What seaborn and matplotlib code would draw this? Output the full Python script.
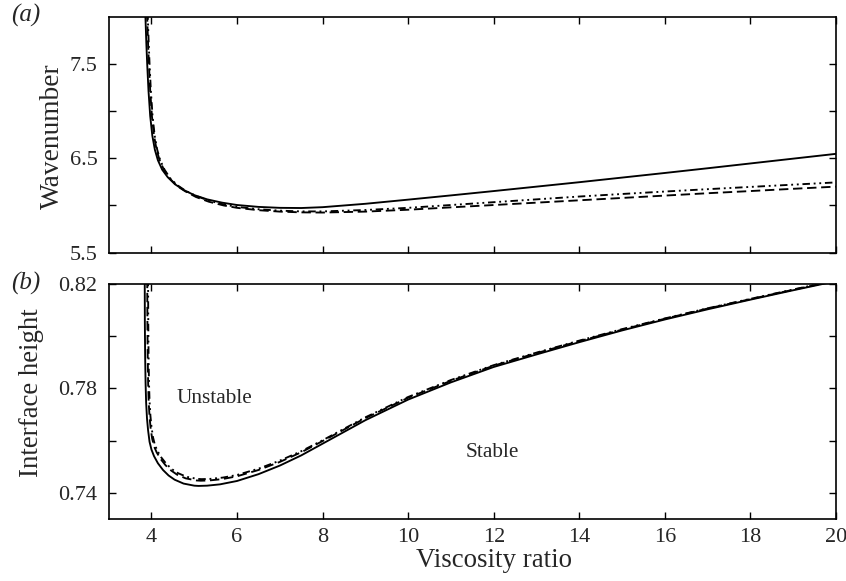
import numpy as np
import pandas as pd
import matplotlib
matplotlib.use("Agg")
import matplotlib.pyplot as plt
import seaborn as sns

# ---- data ----
# Panel (a): wavenumber vs viscosity ratio
a_solid_x = [3.855, 3.88, 3.90, 3.93, 3.97, 4.02, 4.08, 4.15, 4.25, 4.38, 4.55, 4.75, 5.0, 5.3, 5.65, 6.0, 6.5, 7.0, 7.5, 8.0,
             9.0, 10, 11, 12, 13, 14, 15, 16, 17, 18, 19, 20]
a_solid_y = [8.05, 7.72, 7.50, 7.22, 6.95, 6.74, 6.59, 6.48, 6.38, 6.30, 6.225, 6.165, 6.11, 6.065, 6.03, 6.005, 5.985, 5.975, 5.973, 5.982,
             6.018, 6.062, 6.107, 6.153, 6.20, 6.247, 6.296, 6.345, 6.395, 6.446, 6.497, 6.548]

a_dash_x = [3.895, 3.92, 3.94, 3.97, 4.01, 4.06, 4.12, 4.19, 4.29, 4.42, 4.59, 4.79, 5.04, 5.34, 5.69, 6.0, 6.5, 7.0, 7.5, 8.0,
            9.0, 10, 11, 12, 13, 14, 15, 16, 17, 18, 19, 20]
a_dash_y = [8.05, 7.72, 7.50, 7.22, 6.95, 6.74, 6.59, 6.48, 6.38, 6.29, 6.21, 6.15, 6.09, 6.04, 6.00, 5.975, 5.95, 5.935, 5.927, 5.925,
            5.935, 5.955, 5.98, 6.005, 6.03, 6.055, 6.08, 6.105, 6.13, 6.153, 6.177, 6.20]

a_dd_x = [3.91, 3.935, 3.955, 3.985, 4.025, 4.075, 4.135, 4.205, 4.305, 4.435, 4.605, 4.80, 5.05, 5.35, 5.70, 6.0, 6.5, 7.0, 7.5, 8.0,
          9.0, 10, 11, 12, 13, 14, 15, 16, 17, 18, 19, 20]
a_dd_y = [8.05, 7.72, 7.50, 7.22, 6.95, 6.74, 6.59, 6.48, 6.38, 6.29, 6.215, 6.155, 6.10, 6.05, 6.01, 5.985, 5.96, 5.945, 5.937, 5.937,
          5.952, 5.975, 6.005, 6.035, 6.065, 6.095, 6.122, 6.148, 6.173, 6.197, 6.221, 6.245]

# Panel (b): interface height vs viscosity ratio
b_solid_x = [3.842, 3.845, 3.852, 3.862, 3.875, 3.895, 3.92, 3.955, 4.0, 4.06, 4.15, 4.27, 4.40, 4.54, 4.75, 5.0, 5.1, 5.3, 5.6,
             6.0, 6.5, 7.0, 7.5, 8.0, 9, 10, 11, 12, 13, 14, 15, 16, 17, 18, 19, 20]
b_solid_y = [0.822, 0.805, 0.792, 0.782, 0.7745, 0.7685, 0.764, 0.7595, 0.7565, 0.7540, 0.7513, 0.7487, 0.7466, 0.7450, 0.7435, 0.7427, 0.7426, 0.7427, 0.7432,
             0.7445, 0.7471, 0.7504, 0.7543, 0.7588, 0.7678, 0.7757, 0.7823, 0.7882, 0.7930, 0.7977, 0.8022, 0.8064, 0.8103, 0.8140, 0.8176, 0.8211]

b_dash_x = [3.90, 3.905, 3.912, 3.922, 3.935, 3.955, 3.98, 4.015, 4.06, 4.12, 4.21, 4.33, 4.46, 4.60, 4.80, 5.05, 5.15, 5.35, 5.65,
            6.0, 6.5, 7.0, 7.5, 8.0, 9, 10, 11, 12, 13, 14, 15, 16, 17, 18, 19, 20]
b_dash_y = [0.822, 0.805, 0.792, 0.782, 0.7748, 0.769, 0.7648, 0.7608, 0.7578, 0.7555, 0.7530, 0.7505, 0.7485, 0.7469, 0.7455, 0.7447, 0.7446, 0.7447, 0.7452,
            0.7463, 0.7487, 0.7518, 0.7555, 0.7598, 0.7686, 0.7764, 0.7829, 0.7887, 0.7935, 0.7981, 0.8025, 0.8067, 0.8106, 0.8142, 0.8178, 0.8213]

b_dd_x = [3.92, 3.925, 3.932, 3.942, 3.955, 3.975, 4.0, 4.035, 4.08, 4.14, 4.23, 4.35, 4.48, 4.62, 4.82, 5.07, 5.17, 5.37, 5.67,
          6.0, 6.5, 7.0, 7.5, 8.0, 9, 10, 11, 12, 13, 14, 15, 16, 17, 18, 19, 20]
b_dd_y = [0.822, 0.805, 0.792, 0.782, 0.775, 0.7695, 0.7653, 0.7613, 0.7583, 0.756, 0.7535, 0.751, 0.749, 0.7475, 0.7461, 0.7453, 0.7452, 0.7453, 0.7458,
          0.7468, 0.7492, 0.7523, 0.7559, 0.7601, 0.7689, 0.7767, 0.7832, 0.7889, 0.7937, 0.7983, 0.8027, 0.8068, 0.8107, 0.8143, 0.8179, 0.8214]

x_ticks = [4, 6, 8, 10, 12, 14, 16, 18, 20]
x_ticklabels = ["4", "6", "8", "10", "12", "14", "16", "18", "20"]
a_yticks = [5.5, 6.0, 6.5, 7.0, 7.5]
a_yticklabels = ["5.5", "", "6.5", "", "7.5"]
b_yticks = [0.74, 0.76, 0.78, 0.80, 0.82]
b_yticklabels = ["0.74", "", "0.78", "", "0.82"]

sns.set_theme(style="ticks")
plt.rcParams["font.family"] = ["Liberation Serif", "DejaVu Serif"]

fig = plt.figure(figsize=(8.46, 5.81), dpi=100)
W, H = 846, 581
def rect(l, r, t, b):
    return [l / W, 1 - b / H, (r - l) / W, (b - t) / H]

ax_a = fig.add_axes(rect(108.7, 836, 17, 252.6))
ax_b = fig.add_axes(rect(108.7, 836, 284, 518.8))

lw = 1.35
def draw(ax, xs, ys, ls):
    df = pd.DataFrame({"x": xs, "y": ys})
    sns.lineplot(data=df, x="x", y="y", ax=ax, color="black", linewidth=lw,
                 sort=False, estimator=None, linestyle=ls)

draw(ax_a, a_solid_x, a_solid_y, "-")
draw(ax_a, a_dash_x, a_dash_y, (0, (5, 2.5)))
draw(ax_a, a_dd_x, a_dd_y, (0, (4, 2, 1, 2, 1, 2)))
draw(ax_b, b_solid_x, b_solid_y, "-")
draw(ax_b, b_dash_x, b_dash_y, (0, (5, 2.5)))
draw(ax_b, b_dd_x, b_dd_y, (0, (4, 2, 1, 2, 1, 2)))

for ax in (ax_a, ax_b):
    ax.set_xlim(3, 20)
    ax.set_xticks(x_ticks)
    ax.tick_params(direction="in", top=True, right=True, length=5, width=1,
                   labelsize=16, pad=8, color="black")
    ax.tick_params(axis="x", pad=6.5)
    for s in ax.spines.values():
        s.set_linewidth(1.2)
        s.set_color("black")
        s.set_visible(True)

ax_a.set_ylim(5.5, 8.0)
ax_a.set_yticks(a_yticks)
ax_a.set_yticklabels(a_yticklabels)
ax_a.set_xticklabels([""] * len(x_ticks))
ax_a.set_xlabel("")
ax_a.set_ylabel("Wavenumber", fontsize=19.7)
ax_a.yaxis.label.set_verticalalignment("center")
ax_a.yaxis.set_label_coords((52 - 108.7) / 727.3, 0.495)

ax_b.set_ylim(0.73, 0.82)
ax_b.set_yticks(b_yticks)
ax_b.set_yticklabels(b_yticklabels)
ax_b.set_xticklabels(x_ticklabels)
ax_b.set_xlabel("Viscosity ratio", fontsize=19.4)
ax_b.xaxis.label.set_verticalalignment("top")
ax_b.xaxis.set_label_coords(0.53, -(548 - 518.8) / 234.8)
ax_b.set_ylabel("Interface height", fontsize=19.3)
ax_b.yaxis.label.set_verticalalignment("center")
ax_b.yaxis.set_label_coords((32 - 108.7) / 727.3, 0.536)

ax_b.text(5.47, 0.7763, "Unstable", fontsize=15.3, ha="center", va="center")
ax_b.text(11.96, 0.7556, "Stable", fontsize=15.3, ha="center", va="center")

fig.text(26 / W, 1 - 15 / H, "(a)", fontsize=18, style="italic", ha="center", va="center")
fig.text(26 / W, 1 - 283 / H, "(b)", fontsize=18, style="italic", ha="center", va="center")

fig.savefig("out.png", dpi=100)
